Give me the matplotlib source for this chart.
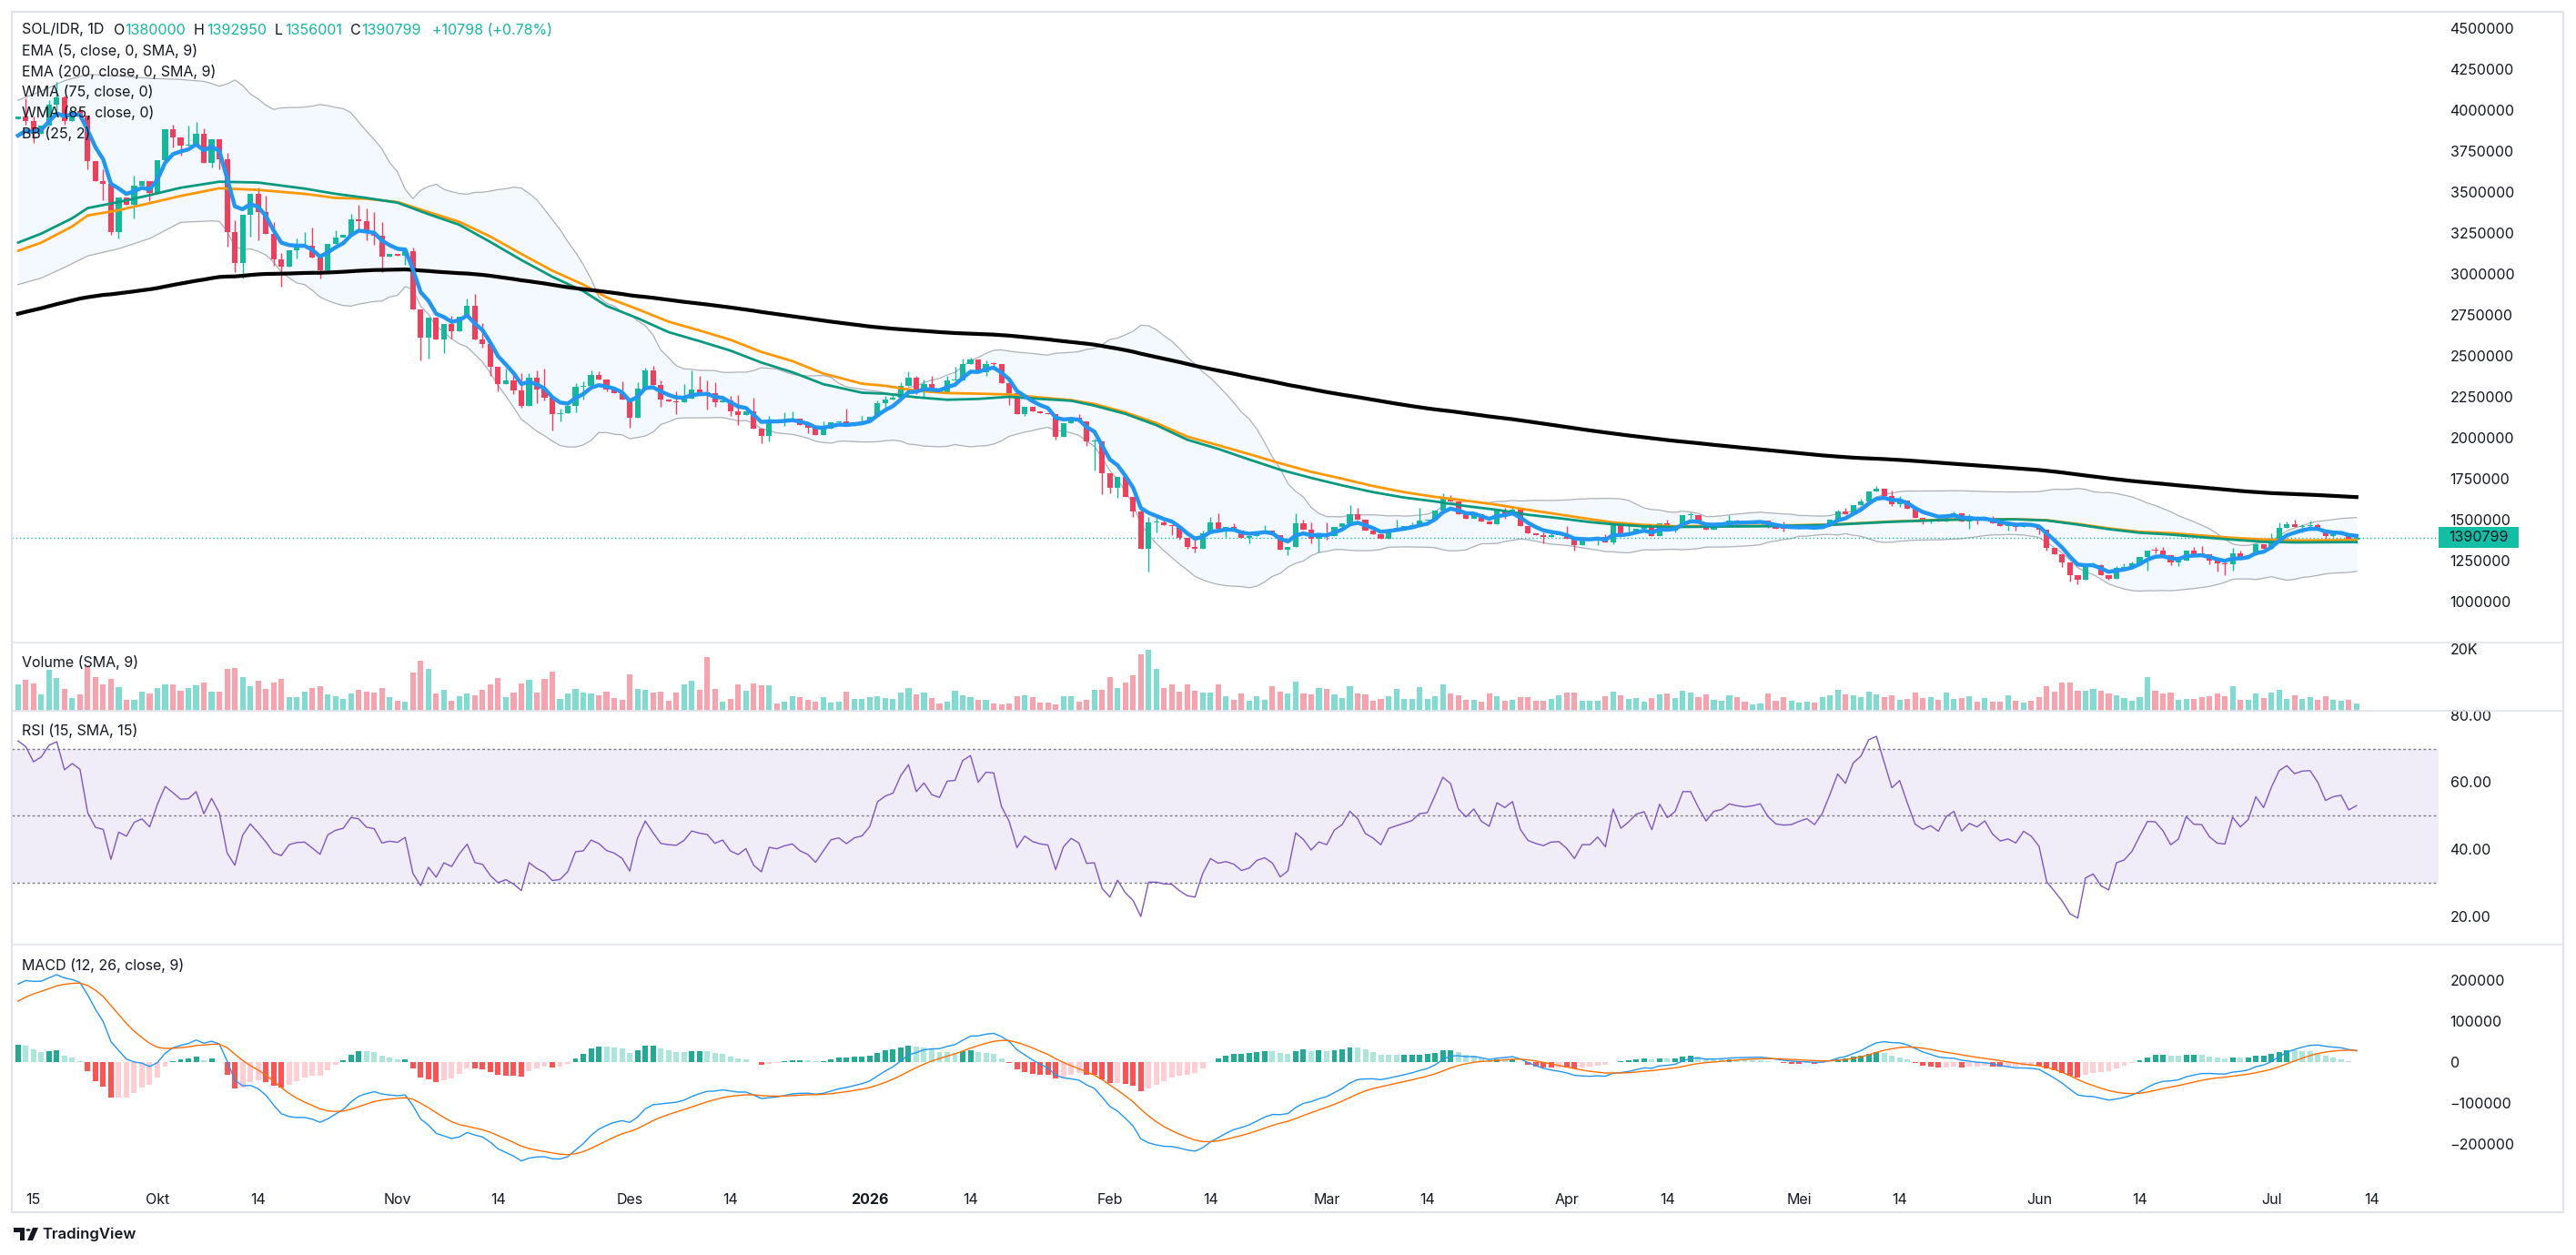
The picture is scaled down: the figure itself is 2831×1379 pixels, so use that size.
"""
SOL/IDR 1D - recreate TradingView chart (price + EMA/WMA/BB, volume, RSI, MACD)
"""

import numpy as np
import pandas as pd
import matplotlib
matplotlib.use("Agg")
import matplotlib.pyplot as plt
import matplotlib.transforms as mtransforms
from matplotlib.patches import Rectangle, Circle, Polygon
from matplotlib.lines import Line2D

plt.rcParams['font.family'] = ['Inter', 'DejaVu Sans']

# ---------------- data (IDR thousands) ----------------
START = "2025-09-13"
first_open = 3945
closes = [
    3959, 3931, 3855, 3904, 4033, 4076, 3932, 3995, 3965, 3687,
    3568, 3550, 3253, 3464, 3422, 3538, 3568, 3496, 3695, 3885,
    3835, 3781, 3786, 3853, 3680, 3823, 3699, 3253, 3067, 3360,
    3489, 3376, 3246, 3087, 3042, 3146, 3166, 3170, 3099, 3022,
    3183, 3223, 3240, 3332, 3320, 3248, 3235, 3108, 3120, 3110,
    3140, 2782, 2613, 2732, 2598, 2696, 2650, 2737, 2805, 2598,
    2574, 2431, 2329, 2348, 2289, 2196, 2367, 2296, 2246, 2144,
    2150, 2194, 2311, 2316, 2381, 2353, 2296, 2274, 2233, 2120,
    2298, 2409, 2320, 2231, 2220, 2215, 2241, 2292, 2278, 2270,
    2215, 2230, 2163, 2140, 2163, 2057, 2009, 2107, 2098, 2110,
    2117, 2080, 2061, 2018, 2055, 2093, 2099, 2074, 2092, 2098,
    2126, 2210, 2232, 2243, 2315, 2367, 2287, 2326, 2289, 2280,
    2349, 2352, 2450, 2478, 2399, 2450, 2448, 2336, 2275, 2145,
    2191, 2163, 2150, 2145, 2006, 2089, 2123, 2099, 1978, 1980,
    1784, 1697, 1761, 1639, 1552, 1321, 1484, 1484, 1465, 1460,
    1391, 1336, 1320, 1417, 1484, 1447, 1454, 1436, 1389, 1398,
    1426, 1435, 1404, 1315, 1335, 1477, 1441, 1381, 1413, 1398,
    1455, 1477, 1533, 1502, 1435, 1413, 1381, 1440, 1450, 1459,
    1468, 1492, 1495, 1555, 1631, 1613, 1533, 1505, 1533, 1490,
    1472, 1555, 1539, 1561, 1463, 1416, 1403, 1394, 1404, 1405,
    1381, 1342, 1376, 1376, 1394, 1363, 1465, 1403, 1422, 1446,
    1453, 1398, 1478, 1435, 1455, 1527, 1527, 1481, 1437, 1468,
    1474, 1492, 1487, 1484, 1487, 1492, 1463, 1446, 1443, 1444,
    1450, 1455, 1444, 1463, 1500, 1548, 1533, 1589, 1611, 1672,
    1687, 1644, 1594, 1616, 1566, 1511, 1496, 1505, 1490, 1524,
    1537, 1487, 1505, 1496, 1509, 1477, 1459, 1463, 1453, 1474,
    1463, 1440, 1329, 1289, 1240, 1163, 1131, 1213, 1222, 1163,
    1140, 1203, 1210, 1231, 1270, 1311, 1310, 1283, 1237, 1251,
    1311, 1288, 1287, 1251, 1231, 1228, 1292, 1265, 1283, 1348,
    1320, 1385, 1450, 1472, 1453, 1463, 1465, 1440, 1398, 1409,
    1413, 1380, 1390.799,
]

# visible wick extremes (index: price in thousands)
wick_hi = {1: 4072, 2: 3959, 4: 4059, 5: 4172, 6: 4089, 8: 4010, 11: 3637, 15: 3600,
           20: 3910, 22: 3905, 23: 3928, 24: 3890, 27: 3737, 28: 3327, 31: 3526,
           32: 3476, 33: 3315, 34: 3129, 36: 3216, 37: 3253, 38: 3285, 41: 3265,
           43: 3365, 44: 3422, 45: 3402, 46: 3377, 47: 3315, 51: 3161, 56: 2746,
           58: 2852, 59: 2876, 60: 2700, 63: 2422, 64: 2400, 65: 2394, 66: 2394,
           67: 2413, 68: 2422, 70: 2176, 72: 2335, 73: 2342, 74: 2409, 75: 2404,
           78: 2342, 80: 2339, 81: 2428, 82: 2441, 83: 2348, 85: 2283, 86: 2329,
           87: 2409, 88: 2376, 89: 2348, 90: 2339, 92: 2255, 93: 2259, 95: 2242,
           97: 2135, 99: 2154, 100: 2159, 104: 2098, 107: 2178, 109: 2132, 111: 2228,
           112: 2256, 113: 2274, 114: 2339, 115: 2404, 116: 2376, 117: 2354, 118: 2376,
           120: 2376, 121: 2432, 122: 2482, 123: 2491, 125: 2473, 126: 2460, 137: 2145,
           139: 1997, 145: 1571, 146: 1515, 147: 1524, 148: 1506, 152: 1386, 153: 1436,
           154: 1515, 155: 1537, 157: 1478, 161: 1469, 165: 1539, 166: 1500, 167: 1483,
           169: 1481, 172: 1589, 173: 1574, 178: 1502, 180: 1483, 181: 1570, 184: 1659,
           185: 1648, 192: 1570, 193: 1579, 197: 1422, 198: 1440, 200: 1463, 205: 1413,
           208: 1465, 210: 1472, 213: 1500, 216: 1546, 221: 1529, 222: 1502, 228: 1487,
           233: 1478, 235: 1561, 236: 1570, 238: 1626, 240: 1705, 242: 1676, 243: 1644,
           250: 1548, 252: 1533, 253: 1520, 255: 1520, 257: 1481, 268: 1237, 269: 1227,
           271: 1215, 272: 1231, 273: 1246, 276: 1335, 277: 1335, 279: 1274, 281: 1335,
           282: 1339, 285: 1252, 286: 1326, 287: 1311, 289: 1357, 291: 1416, 292: 1483,
           293: 1487, 294: 1500, 295: 1472, 296: 1492, 297: 1477, 299: 1431, 300: 1435,
           302: 1392.95}
wick_lo = {1: 3913, 2: 3799, 5: 3960, 6: 3913, 9: 3637, 11: 3451, 12: 3241, 13: 3216,
           15: 3340, 17: 3446, 20: 3774, 21: 3724, 25: 3650, 26: 3637, 27: 3166,
           28: 3012, 29: 2973, 30: 3228, 31: 3203, 33: 3050, 34: 2923, 36: 3092,
           39: 2973, 44: 3265, 45: 3203, 46: 3179, 47: 3012, 50: 3055, 52: 2472,
           53: 2484, 55: 2515, 56: 2607, 60: 2552, 61: 2376, 62: 2283, 64: 2265,
           65: 2181, 67: 2209, 68: 2228, 69: 2042, 70: 2098, 72: 2154, 73: 2231,
           76: 2283, 79: 2061, 83: 2191, 85: 2144, 89: 2172, 90: 2191, 92: 2135,
           93: 2079, 96: 1968, 97: 1978, 99: 2070, 102: 2029, 112: 2182, 116: 2269,
           117: 2247, 125: 2380, 126: 2432, 128: 2200, 130: 2132, 134: 1991, 138: 1950,
           139: 1802, 140: 1658, 141: 1663, 142: 1632, 144: 1515, 146: 1186, 147: 1423,
           149: 1404, 150: 1380, 151: 1321, 152: 1298, 156: 1395, 159: 1358, 164: 1284,
           167: 1357, 168: 1302, 169: 1376, 192: 1505, 197: 1357, 201: 1311, 204: 1342,
           206: 1348, 214: 1422, 216: 1505, 222: 1468, 226: 1450, 228: 1426, 242: 1585,
           243: 1579, 246: 1472, 247: 1478, 252: 1444, 253: 1472, 257: 1431, 258: 1435,
           261: 1409, 262: 1311, 264: 1213, 265: 1122, 266: 1107, 270: 1131, 275: 1190,
           276: 1292, 278: 1224, 279: 1218, 283: 1227, 284: 1181, 285: 1163, 286: 1190,
           295: 1422, 296: 1431, 298: 1379, 299: 1394, 302: 1356.001}

# volume in thousands (K)
volume_k = [
    8.5, 9.9, 8.7, 5.2, 13.1, 10.5, 7.0, 4.0, 5.2, 14.2,
    10.8, 8.4, 10.2, 7.5, 3.4, 3.4, 6.1, 5.5, 7.3, 8.4,
    8.4, 6.4, 7.3, 8.1, 9.0, 6.1, 6.1, 13.4, 13.7, 10.8,
    7.8, 9.6, 7.0, 9.0, 10.2, 4.3, 4.3, 6.1, 7.3, 7.8,
    5.2, 4.6, 3.7, 5.5, 6.7, 6.1, 5.8, 7.3, 4.3, 3.1,
    2.8, 12.3, 16.1, 13.4, 5.5, 6.7, 3.1, 4.6, 5.5, 4.9,
    6.7, 8.4, 10.5, 4.3, 5.8, 8.7, 9.9, 5.8, 10.2, 12.5,
    3.7, 5.5, 7.0, 5.8, 5.5, 4.9, 6.1, 4.0, 3.4, 11.7,
    7.0, 6.7, 5.8, 6.1, 3.1, 5.8, 8.4, 9.6, 6.7, 17.2,
    7.0, 2.8, 3.7, 8.4, 6.4, 8.7, 8.1, 8.1, 2.3, 2.8,
    4.6, 4.3, 3.4, 2.8, 4.3, 2.5, 2.8, 6.1, 3.7, 3.7,
    4.3, 4.6, 4.0, 3.7, 5.8, 7.3, 5.2, 5.8, 4.0, 2.3,
    2.8, 6.4, 4.9, 4.3, 3.4, 3.4, 2.3, 2.0, 2.3, 4.6,
    4.9, 4.3, 2.5, 2.5, 2.0, 4.6, 4.6, 2.8, 3.4, 6.7,
    6.7, 10.8, 7.3, 9.0, 11.4, 18.1, 19.6, 13.4, 7.3, 8.4,
    6.1, 8.4, 6.4, 5.8, 5.8, 8.4, 4.6, 3.4, 5.5, 3.1,
    4.6, 3.4, 7.8, 6.0, 5.6, 9.3, 5.6, 5.2, 7.3, 7.0,
    5.2, 4.0, 7.8, 5.5, 5.2, 3.1, 3.7, 4.6, 7.0, 3.7,
    3.7, 7.5, 3.7, 4.6, 8.4, 5.5, 4.9, 3.4, 3.4, 2.8,
    5.5, 4.6, 3.1, 3.4, 4.3, 4.3, 3.1, 3.1, 3.7, 4.9,
    5.8, 5.8, 3.1, 3.1, 3.1, 4.6, 6.1, 4.9, 3.7, 4.0,
    2.8, 4.0, 5.2, 5.5, 4.0, 6.4, 5.8, 4.3, 5.2, 3.4,
    3.1, 4.9, 4.3, 2.8, 2.1, 2.3, 5.5, 3.1, 4.3, 3.1,
    2.5, 2.8, 2.5, 4.3, 4.9, 6.7, 5.2, 4.9, 4.3, 6.1,
    5.2, 4.3, 4.9, 3.4, 3.7, 5.8, 4.0, 4.3, 3.4, 5.8,
    3.7, 4.0, 4.6, 2.8, 4.0, 2.8, 2.8, 4.9, 3.1, 2.5,
    3.1, 4.3, 7.8, 6.1, 9.0, 9.0, 6.4, 6.4, 7.0, 6.4,
    5.5, 4.9, 4.0, 3.1, 4.3, 10.8, 6.4, 5.5, 5.8, 3.4,
    3.7, 3.7, 4.3, 4.6, 5.5, 4.6, 7.8, 3.4, 3.4, 5.5,
    4.0, 5.8, 6.7, 3.7, 4.9, 3.7, 4.3, 3.4, 4.6, 3.4,
    3.1, 3.4, 2.3,
]

# WMA lines (index, thousands)
wma_idx = [0, 3, 7, 9, 13, 17, 21, 26, 31, 37, 41, 45, 49, 53, 57, 61, 65, 69, 73, 76,
           80, 84, 88, 92, 96, 100, 104, 109, 112, 116, 120, 124, 128, 132, 136, 139,
           143, 147, 151, 155, 159, 163, 167, 171, 175, 179, 183, 187, 191, 195, 199,
           203, 206, 210, 214, 220, 226, 234, 242, 250, 258, 262, 266, 270, 274, 278,
           282, 286, 290, 294, 298, 302]
wma75 = [3191, 3246, 3340, 3402, 3439, 3481, 3526, 3563, 3558, 3521, 3489, 3464, 3435,
         3365, 3300, 3195, 3085, 2983, 2895, 2805, 2730, 2645, 2590, 2532, 2459, 2400,
         2327, 2275, 2269, 2247, 2232, 2237, 2250, 2237, 2226, 2196, 2146, 2077, 1988,
         1932, 1867, 1805, 1755, 1709, 1668, 1635, 1611, 1583, 1560, 1530, 1509, 1485,
         1472, 1459, 1455, 1458, 1460, 1468, 1487, 1500, 1502, 1495, 1470, 1442, 1420,
         1409, 1393, 1378, 1365, 1361, 1362, 1363]
wma85 = [3141, 3191, 3290, 3357, 3389, 3432, 3476, 3523, 3513, 3489, 3464, 3459, 3439,
         3378, 3318, 3228, 3122, 3020, 2935, 2857, 2785, 2709, 2655, 2598, 2524, 2468,
         2392, 2330, 2317, 2287, 2273, 2269, 2264, 2246, 2230, 2206, 2155, 2090, 2007,
         1954, 1900, 1844, 1792, 1750, 1705, 1668, 1639, 1616, 1591, 1560, 1532, 1503,
         1483, 1468, 1460, 1462, 1463, 1470, 1489, 1502, 1503, 1497, 1474, 1447, 1426,
         1418, 1403, 1389, 1379, 1373, 1374, 1376]

# Bollinger band before a full 25-bar window is on screen
bb_head_idx = [0, 3, 6, 9, 13, 17, 21]
bb_head_upper = [4060, 4116, 4180, 4218, 4209, 4194, 4187]
bb_head_lower = [2935, 2975, 3040, 3110, 3154, 3216, 3315]

# indicator state on the first bar (thousands)
seed_ema5 = 3845
seed_ema200 = 2757
seed_ema12 = 3650
seed_ema26 = 3460
seed_signal = 148
seed_rsi_gain = 60
seed_rsi_loss = 23

last_label = "1390799"
legend_vals = [("O", "1380000"), ("H", "1392950"), ("L", "1356001"), ("C", "1390799")]
legend_change = "+10798 (+0.78%)"

# ---------------- colours ----------------
UP = "#12B99D"
DOWN = "#F23D5B"
VOL_UP = "#80DCD0"
VOL_DOWN = "#F8A2AD"
TXT = "#131722"
BORDER = "#E0E3EB"

# ---------------- calculations ----------------
c = np.array(closes, float) * 1000
n = len(c)
o = np.r_[first_open * 1000, c[:-1]]
o[-1] = 1380000
hi = np.maximum(o, c)
lo = np.minimum(o, c)
for k, v in wick_hi.items():
    hi[k] = max(hi[k], v * 1000)
for k, v in wick_lo.items():
    lo[k] = min(lo[k], v * 1000)
x = np.arange(n)


def ema(vals, length, seed):
    a = 2.0 / (length + 1)
    out = np.empty(len(vals))
    prev = seed
    for k, v in enumerate(vals):
        if k:
            prev = prev + a * (v - prev)
        out[k] = prev
    return out


ema5 = ema(c, 5, seed_ema5 * 1000)
ema200 = ema(c, 200, seed_ema200 * 1000)

roll = pd.Series(c).rolling(25)
bb_mid = roll.mean().values
bb_sd = roll.std(ddof=0).values
bb_x = np.r_[bb_head_idx, np.arange(24, n)]
bb_up = np.r_[np.array(bb_head_upper) * 1000, (bb_mid + 2 * bb_sd)[24:]]
bb_dn = np.r_[np.array(bb_head_lower) * 1000, (bb_mid - 2 * bb_sd)[24:]]

g, l = seed_rsi_gain * 1000.0, seed_rsi_loss * 1000.0
rsi = np.empty(n)
for k in range(n):
    if k:
        d = c[k] - c[k - 1]
        g = (g * 14 + max(d, 0)) / 15
        l = (l * 14 + max(-d, 0)) / 15
    rsi[k] = 100 - 100 / (1 + g / l)

macd = ema(c, 12, seed_ema12 * 1000) - ema(c, 26, seed_ema26 * 1000)
signal = ema(macd, 9, seed_signal * 1000)
hist = macd - signal
prev_h = np.r_[hist[0] - 1, hist[:-1]]
hist_col = np.where(hist >= 0,
                    np.where(hist > prev_h, "#22AB94", "#ACE5DC"),
                    np.where(hist < prev_h, "#FF5252", "#FFCDD2"))

# ---------------- figure layout (pixel based) ----------------
W, H = 2831, 1379
fig = plt.figure(figsize=(W / 100, H / 100), dpi=100)
fig.patch.set_facecolor("white")

X0, X1 = 13, 2680


def add_pane(top, bottom):
    ax = fig.add_axes([X0 / W, 1 - bottom / H, (X1 - X0) / W, (bottom - top) / H])
    for s in ax.spines.values():
        s.set_visible(False)
    ax.set_facecolor("none")
    ax.yaxis.tick_right()
    ax.tick_params(axis="y", length=0, pad=9, labelsize=11.5, colors=TXT)
    ax.tick_params(axis="x", length=0)
    ax.set_xlim(-0.8, 312.6)
    return ax


ax_p = add_pane(13, 705)
ax_v = add_pane(706, 781)
ax_r = add_pane(782, 1037)
ax_m = add_pane(1038, 1300)

# ---- price pane ----
ax_p.set_ylim(755556, 4600000)
ax_p.fill_between(bb_x, bb_dn, bb_up, color="#2196F3", alpha=0.05, lw=0, zorder=1)
ax_p.plot(bb_x, bb_up, color="#ADB0B8", lw=0.9, zorder=2)
ax_p.plot(bb_x, bb_dn, color="#ADB0B8", lw=0.9, zorder=2)

col = np.where(c >= o, UP, DOWN)
ax_p.vlines(x, lo, hi, colors=col, lw=1.0, zorder=3)
body_lo = np.minimum(o, c)
body_h = np.maximum(np.abs(c - o), 6000)
ax_p.bar(x, body_h, bottom=body_lo, width=0.72, color=col, lw=0, zorder=3)

ax_p.plot(wma_idx, np.array(wma85) * 1000, color="#FF9800", lw=2.0, zorder=4,
          solid_capstyle="round")
ax_p.plot(wma_idx, np.array(wma75) * 1000, color="#089981", lw=2.0, zorder=4,
          solid_capstyle="round")
ax_p.plot(x, ema200, color="black", lw=3.0, zorder=5)
ax_p.plot(x, ema5, color="#2196F3", lw=3.2, zorder=5)

ax_p.axhline(c[-1], color="#13BFA4", lw=1.0, ls=(0, (1, 2)), zorder=2)
ax_p.set_yticks(np.arange(1000000, 4500001, 250000))
ax_p.set_yticklabels([f"{v:d}" for v in range(1000000, 4500001, 250000)])
ax_p.set_xticks([])

# last price tag on the axis
trans = mtransforms.blended_transform_factory(ax_p.transAxes, ax_p.transData)
ax_w = X1 - X0
y_px = (4600000 - 755556) / 692.0
ax_p.add_patch(Rectangle((1.0, c[-1] - 11.3 * y_px), 88 / ax_w, 22.6 * y_px,
                         transform=trans, fc="#13BFA4", ec="none", clip_on=False,
                         zorder=10))
ax_p.text(1 + 11 / ax_w, c[-1], last_label, transform=trans, ha="left",
          va="center", fontsize=11.5, color=TXT, zorder=11, clip_on=False)

# ---- volume pane ----
vcol = np.where(c >= o, VOL_UP, VOL_DOWN)
ax_v.bar(x, volume_k, width=0.72, color=vcol, lw=0)
ax_v.set_ylim(-0.09, 21.97)
ax_v.set_yticks([20])
ax_v.set_yticklabels(["20K"])
ax_v.set_xticks([])

# ---- RSI pane ----
ax_r.set_ylim(11.8, 81.0)
ax_r.axhspan(30, 70, color="#7E57C2", alpha=0.1, lw=0)
for lvl in (70, 50, 30):
    ax_r.axhline(lvl, color="#787B86", lw=1.0, ls=(0, (2, 2)))
ax_r.plot(x, rsi, color="#7E57C2", lw=1.0)
ax_r.set_yticks([20, 40, 60, 80])
ax_r.set_yticklabels(["20.00", "40.00", "60.00", "80.00"])
ax_r.set_xticks([])

# ---- MACD pane ----
ax_m.set_ylim(-296000, 286000)
ax_m.bar(x, hist, width=0.7, color=hist_col, lw=0)
ax_m.plot(x, macd, color="#2196F3", lw=1.0)
ax_m.plot(x, signal, color="#FF6D00", lw=1.0)
mt = [200000, 100000, 0, -100000, -200000]
ax_m.set_yticks(mt)
ax_m.set_yticklabels([f"{v:d}".replace("-", "\u2212") for v in mt])

start = pd.Timestamp(START)
tick_dates = ["2025-09-15", "2025-10-01", "2025-10-14", "2025-11-01", "2025-11-14",
              "2025-12-01", "2025-12-14", "2026-01-01", "2026-01-14", "2026-02-01",
              "2026-02-14", "2026-03-01", "2026-03-14", "2026-04-01", "2026-04-14",
              "2026-05-01", "2026-05-14", "2026-06-01", "2026-06-14", "2026-07-01",
              "2026-07-14"]
tick_labels = ["15", "Okt", "14", "Nov", "14", "Des", "14", "2026", "14", "Feb", "14",
               "Mar", "14", "Apr", "14", "Mei", "14", "Jun", "14", "Jul", "14"]
ax_m.set_xticks([(pd.Timestamp(d) - start).days for d in tick_dates])
ax_m.set_xticklabels(tick_labels)
ax_m.tick_params(axis="x", pad=8, labelsize=11.5, colors=TXT)
for lab in ax_m.get_xticklabels():
    if lab.get_text() == "2026":
        lab.set_fontweight("bold")

# ---------------- frame, separators, texts ----------------
def px(xp, yp):
    return xp / W, 1 - yp / H


fig.add_artist(Rectangle(px(13, 1332), (2817 - 13) / W, (1332 - 13) / H, fill=False,
                         ec=BORDER, lw=1.5, transform=fig.transFigure, zorder=20))
for ys in (706, 781, 1038):
    fig.add_artist(Line2D([13 / W, 2817 / W], [1 - ys / H] * 2, color=BORDER, lw=1.2,
                          transform=fig.transFigure, zorder=20))

fs = 11.5
fig.text(*px(24, 33), "SOL/IDR, 1D", fontsize=fs, color=TXT, va="center", zorder=30)
pos = [(125, 137), (213, 227), (302, 313), (385, 397)]
for (k, v), (xa, xb) in zip(legend_vals, pos):
    fig.text(*px(xa, 33), k, fontsize=fs, color=TXT, va="center", zorder=30)
    fig.text(*px(xb, 33), v, fontsize=fs, color=UP, va="center", zorder=30)
fig.text(*px(475, 33), legend_change, fontsize=fs, color=UP, va="center", zorder=30)

legend_rows = ["EMA (5, close, 0, SMA, 9)", "EMA (200, close, 0, SMA, 9)",
               "WMA (75, close, 0)", "WMA (85, close, 0)", "BB (25, 2)"]
for k, t in enumerate(legend_rows):
    fig.text(*px(24, 56 + 22.7 * k), t, fontsize=fs, color=TXT, va="center", zorder=30)

fig.text(*px(24, 728), "Volume (SMA, 9)", fontsize=fs, color=TXT, va="center")
fig.text(*px(24, 803), "RSI (15, SMA, 15)", fontsize=fs, color=TXT, va="center")
fig.text(*px(24, 1061), "MACD (12, 26, close, 9)", fontsize=fs, color=TXT, va="center")

# TradingView logo
fig.add_artist(Polygon([px(15, 1349), px(27, 1349), px(27, 1363), px(22, 1363),
                        px(22, 1354), px(15, 1354)], closed=True, fc=TXT, ec="none",
                       transform=fig.transFigure))
fig.add_artist(Circle(px(31, 1351.5), 2.6 / W, fc=TXT, ec="none",
                      transform=fig.transFigure))
fig.add_artist(Polygon([px(36, 1349), px(42, 1349), px(36, 1363), px(30, 1363)],
                       closed=True, fc=TXT, ec="none", transform=fig.transFigure))
fig.text(*px(46, 1356), "TradingView", fontsize=12, color=TXT, va="center",
         fontweight="semibold")

plt.savefig("out.png", dpi=100)
plt.close()
